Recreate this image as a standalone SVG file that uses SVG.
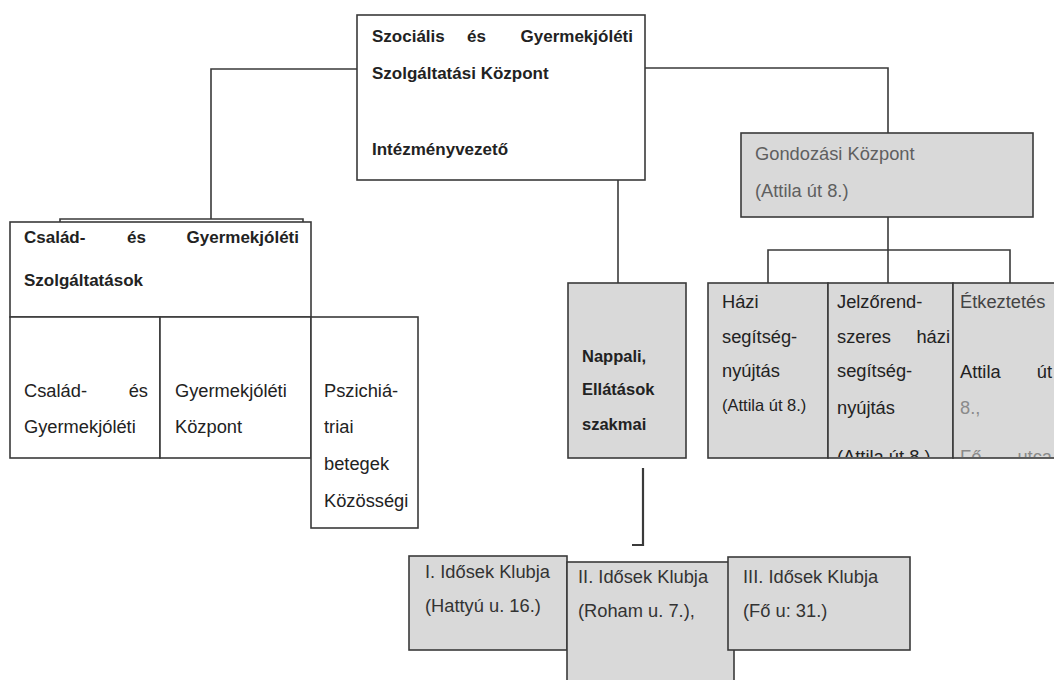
<svg xmlns="http://www.w3.org/2000/svg" width="1054" height="680" viewBox="0 0 1054 680">
<style>
  .box{fill:#ffffff;stroke:#3a3a3a;stroke-width:1.6}
  .gbox{fill:#d9d9d9;stroke:#3a3a3a;stroke-width:1.6}
  .ln{fill:none;stroke:#3a3a3a;stroke-width:1.6}
  .t{font-family:"Liberation Sans",Arial,sans-serif;font-size:18.3px;fill:#222}
  .b{font-weight:bold;font-size:17px}
  .g{fill:#5f5f5f}
  .lg{fill:#8a8a8a}
  .s{font-size:16.5px}
</style>
<defs>
  <clipPath id="clipJ"><rect x="828" y="283" width="125" height="174"/></clipPath>
  <clipPath id="clipE"><rect x="953" y="283" width="110" height="174"/></clipPath>
</defs>
<rect width="1054" height="680" fill="#ffffff"/>

<g id="connectors">
  <polyline class="ln" points="357,69 211,69 211,219"/>
  <polyline class="ln" points="645,68 888,68 888,133"/>
  <line class="ln" x1="618" y1="128" x2="618" y2="283"/>
  <line class="ln" x1="888" y1="217" x2="888" y2="283"/>
  <polyline class="ln" points="768,283 768,250 1010,250 1010,283"/>
  <polyline class="ln" points="643,468 643,545 632,545" style="stroke-width:2.2"/>
</g>

<g id="n-top">
  <rect class="box" x="357" y="15" width="288" height="165"/>
  <text class="t b" x="372" y="42">Szociális</text>
  <text class="t b" x="467" y="42">és</text>
  <text class="t b" x="633" y="42" text-anchor="end">Gyermekjóléti</text>
  <text class="t b" x="372" y="79">Szolgáltatási Központ</text>
  <text class="t b" x="372" y="155">Intézményvezető</text>
</g>

<g id="n-csalad-szolg">
  <polyline class="ln" points="60,222 60,219 303,219 303,222"/>
  <rect class="box" x="10" y="222" width="301" height="95"/>
  <text class="t b" x="24" y="243">Család-</text>
  <text class="t b" x="127" y="243">és</text>
  <text class="t b" x="299" y="243" text-anchor="end">Gyermekjóléti</text>
  <text class="t b" x="24" y="286">Szolgáltatások</text>
</g>

<g id="n-csalad-gyj">
  <rect class="box" x="10" y="317" width="150" height="141"/>
  <text class="t" x="24" y="397">Család-</text>
  <text class="t" x="148" y="397" text-anchor="end">és</text>
  <text class="t" x="24" y="433">Gyermekjóléti</text>
</g>

<g id="n-gyk">
  <rect class="box" x="160" y="317" width="151" height="141"/>
  <text class="t" x="175" y="397">Gyermekjóléti</text>
  <text class="t" x="175" y="433">Központ</text>
</g>

<g id="n-pszich">
  <rect class="box" x="311" y="317" width="107" height="211"/>
  <text class="t" x="324" y="397">Pszichiá-</text>
  <text class="t" x="324" y="433">triai</text>
  <text class="t" x="324" y="470">betegek</text>
  <text class="t" x="324" y="507">Közösségi</text>
</g>

<g id="n-gondozasi">
  <rect class="gbox" x="741" y="133" width="292" height="84"/>
  <text class="t g" x="755" y="160">Gondozási Központ</text>
  <text class="t g" x="755" y="197">(Attila út 8.)</text>
</g>

<g id="n-nappali">
  <rect class="gbox" x="568" y="283" width="118" height="175"/>
  <text class="t" x="582" y="362" style="font-weight:bold;font-size:16.5px">Nappali,</text>
  <text class="t" x="582" y="395" style="font-weight:bold;font-size:16.5px">Ellátások</text>
  <text class="t" x="582" y="430" style="font-weight:bold;font-size:16.5px">szakmai</text>
</g>

<g id="n-hazi">
  <rect class="gbox" x="708" y="283" width="120" height="175"/>
  <text class="t" x="722" y="308">Házi</text>
  <text class="t" x="722" y="343">segítség-</text>
  <text class="t" x="722" y="377">nyújtás</text>
  <text class="t s" x="722" y="411">(Attila út 8.)</text>
</g>

<g id="n-jelzo">
  <rect class="gbox" x="828" y="283" width="125" height="175"/>
  <g clip-path="url(#clipJ)">
    <text class="t" x="837" y="308">Jelzőrend-</text>
    <text class="t" x="837" y="343">szeres</text>
    <text class="t" x="950" y="343" text-anchor="end">házi</text>
    <text class="t" x="837" y="377">segítség-</text>
    <text class="t" x="837" y="414">nyújtás</text>
    <text class="t" x="837" y="463">(Attila út 8.)</text>
  </g>
</g>

<g id="n-etkeztetes">
  <rect class="gbox" x="953" y="283" width="110" height="175"/>
  <g clip-path="url(#clipE)">
    <text class="t" x="960" y="308" style="fill:#444">Étkeztetés</text>
    <text class="t" x="960" y="378">Attila</text>
    <text class="t" x="1052" y="378" text-anchor="end">út</text>
    <text class="t lg" x="960" y="414">8.,</text>
    <text class="t lg" x="960" y="463">Fő</text>
    <text class="t lg" x="1052" y="463" text-anchor="end">utca</text>
  </g>
</g>

<g id="n-klub1">
  <rect class="gbox" x="409" y="556" width="158" height="94"/>
  <text class="t" x="425" y="578" style="fill:#333">I. Idősek Klubja</text>
  <text class="t" x="425" y="612" style="fill:#333">(Hattyú u. 16.)</text>
</g>

<g id="n-klub2">
  <rect class="gbox" x="567" y="562" width="167" height="130"/>
  <text class="t" x="578" y="583" style="fill:#333">II. Idősek Klubja</text>
  <text class="t" x="578" y="617" style="fill:#333">(Roham u. 7.),</text>
</g>

<g id="n-klub3">
  <rect class="gbox" x="728" y="557" width="182" height="93"/>
  <text class="t" x="743" y="583" style="fill:#333">III. Idősek Klubja</text>
  <text class="t" x="743" y="617" style="fill:#333">(Fő u: 31.)</text>
</g>
</svg>
